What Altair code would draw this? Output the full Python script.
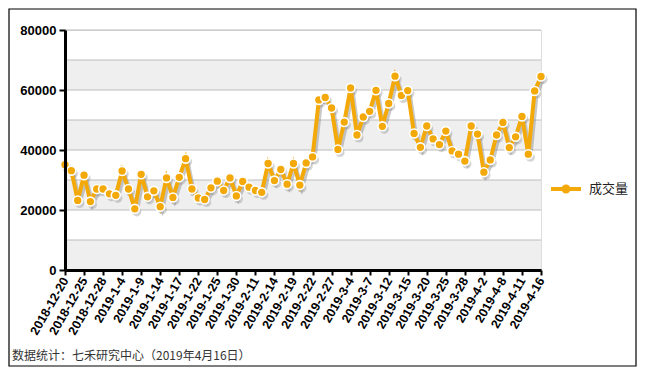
import altair as alt
import pandas as pd

dates = [
    "2018-12-20", "2018-12-21", "2018-12-24", "2018-12-25", "2018-12-26", "2018-12-27", "2018-12-28",
    "2019-1-2", "2019-1-3", "2019-1-4", "2019-1-7", "2019-1-8", "2019-1-9", "2019-1-10", "2019-1-11",
    "2019-1-14", "2019-1-15", "2019-1-16", "2019-1-17", "2019-1-18", "2019-1-21", "2019-1-22",
    "2019-1-23", "2019-1-24", "2019-1-25", "2019-1-28", "2019-1-29", "2019-1-30", "2019-1-31",
    "2019-2-1", "2019-2-11", "2019-2-12", "2019-2-13", "2019-2-14", "2019-2-15", "2019-2-18",
    "2019-2-19", "2019-2-20", "2019-2-21", "2019-2-22", "2019-2-25", "2019-2-26", "2019-2-27",
    "2019-2-28", "2019-3-1", "2019-3-4", "2019-3-5", "2019-3-6", "2019-3-7", "2019-3-8",
    "2019-3-11", "2019-3-12", "2019-3-13", "2019-3-14", "2019-3-15", "2019-3-18", "2019-3-19",
    "2019-3-20", "2019-3-21", "2019-3-22", "2019-3-25", "2019-3-26", "2019-3-27", "2019-3-28",
    "2019-3-29", "2019-4-1", "2019-4-2", "2019-4-3", "2019-4-4", "2019-4-8", "2019-4-9",
    "2019-4-10", "2019-4-11", "2019-4-12", "2019-4-15", "2019-4-16",
]

volume = [
    35100, 33100, 23200, 31600, 22800, 27000, 27000, 25400, 24900, 33000,
    27000, 20400, 31900, 24400, 26400, 21100, 30700, 24200, 30900, 37100,
    27000, 24000, 23500, 27400, 29600, 26500, 30700, 24700, 29500, 27600,
    26500, 25900, 35500, 29800, 33500, 28600, 35500, 28300, 35700, 37700,
    56700, 57500, 54000, 40200, 49300, 60700, 45000, 51000, 52900, 59900,
    47900, 55500, 64600, 58200, 59800, 45500, 40900, 48000, 43700, 41800,
    46300, 39700, 38600, 36300, 48000, 45300, 32600, 36700, 45000, 49200,
    40800, 44400, 51200, 38600, 59700, 64500,
]

tick_labels = dates[::3]
series_name = "成交量"
band_starts = [0, 20000, 40000, 60000]
grid_values = [10000, 20000, 30000, 40000, 50000, 60000, 70000, 80000]
y_ticks = [0, 20000, 40000, 60000, 80000]
footer = "数据统计：七禾研究中心（2019年4月16日）"

GOLD = "#F3A90A"
W, H = 476, 240

df = pd.DataFrame({"date": dates, "v": volume, "s": series_name})
bands = pd.DataFrame({"y": band_starts, "y2": [b + 10000 for b in band_starts]})
grid = pd.DataFrame({"y": grid_values})
frame = pd.DataFrame({"k": [0]})
foot = pd.DataFrame({"t": [footer]})

x_enc = alt.X(
    "date:N",
    sort=None,
    scale=alt.Scale(type="point", padding=0),
    axis=alt.Axis(
        values=tick_labels,
        title=None,
        labelAngle=300,
        labelAlign="right",
        labelBaseline="middle",
        labelFont="Liberation Sans",
        labelFontWeight="bold",
        labelFontSize=12.5,
        labelColor="#000",
        labelPadding=3,
        domainColor="#000",
        domainWidth=3,
        tickColor="#000",
        tickWidth=2,
        tickSize=5,
        grid=False,
        zindex=1,
    ),
)
y_scale = alt.Scale(domain=[0, 80000], nice=False)
y_enc = alt.Y(
    "v:Q",
    scale=y_scale,
    axis=alt.Axis(
        values=y_ticks,
        title=None,
        format="d",
        labelFont="Liberation Sans",
        labelFontWeight="bold",
        labelFontSize=13,
        labelColor="#000",
        labelPadding=3,
        domainColor="#000",
        domainWidth=3,
        tickColor="#000",
        tickWidth=2,
        tickSize=6,
        grid=False,
        zindex=1,
    ),
)

band_layer = alt.Chart(bands).mark_rect(color="#EFEFEF").encode(
    y=alt.Y("y:Q", scale=y_scale), y2="y2:Q"
)
grid_layer = alt.Chart(grid).mark_rule(color="#BDBDBD", strokeWidth=1).encode(
    y=alt.Y("y:Q", scale=y_scale)
)
frame_layer = alt.Chart(frame).mark_rect(
    fillOpacity=0, stroke="#000", strokeWidth=1.2
).encode(
    x=alt.value(-56), x2=alt.value(W + 95), y=alt.value(-21), y2=alt.value(H + 96)
)
footer_layer = alt.Chart(foot).mark_text(
    align="left", baseline="middle", font="Noto Sans CJK SC", fontSize=12, color="#333"
).encode(text="t:N", x=alt.value(-53), y=alt.value(H + 86))

base = alt.Chart(df)
shadow_line = base.mark_line(
    color="#888", opacity=0.45, strokeWidth=4, xOffset=2, yOffset=3
).encode(x=x_enc, y=y_enc)
shadow_pts = base.mark_circle(
    color="#888", opacity=0.35, size=85, xOffset=2, yOffset=3
).encode(x=x_enc, y=y_enc)
line = base.mark_line(color=GOLD, strokeWidth=4).encode(x=x_enc, y=y_enc)
legend_path = (
    "M-1,-0.13H1V0.13H-1Z "
    "M0.3,0A0.3,0.3 0 1,1 -0.3,0A0.3,0.3 0 1,1 0.3,0Z"
)
points = base.mark_point(
    filled=True, size=80, stroke="white", strokeWidth=1.6, opacity=1
).encode(
    x=x_enc,
    y=y_enc,
    fill=alt.Fill(
        "s:N",
        scale=alt.Scale(domain=[series_name], range=[GOLD]),
        legend=alt.Legend(
            title=None,
            orient="none",
            legendX=486,
            legendY=144,
            symbolType=legend_path,
            symbolSize=900,
            symbolStrokeWidth=0,
            symbolOpacity=1,
            labelFont="Noto Sans CJK SC",
            labelFontSize=13,
            labelColor="#222",
            labelOffset=8,
        ),
    ),
)

chart = alt.layer(
    band_layer, grid_layer, shadow_line, shadow_pts, line, points, frame_layer, footer_layer
).properties(
    width=W,
    height=H,
    autosize=alt.AutoSizeParams(type="none"),
    padding={"left": 57, "top": 22, "right": 96, "bottom": 97},
).configure_view(stroke=None).configure(background="white")

chart.save("out.html", embed_options={"renderer": "svg", "actions": False})
